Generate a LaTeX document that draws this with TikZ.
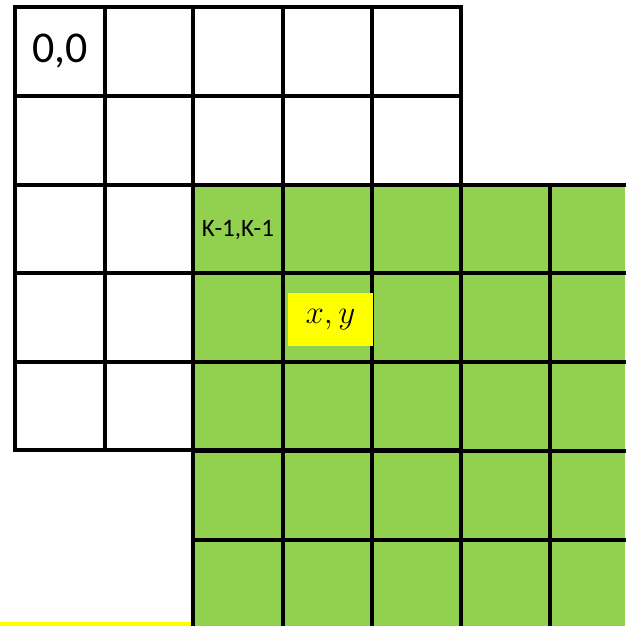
\RequirePackage{fix-cm}
\documentclass[tikz,border=0pt]{standalone}
\usepackage{fontspec}
\setmainfont{Carlito}
\definecolor{cellgreen}{RGB}{146,208,80}
\definecolor{hiyellow}{RGB}{255,255,0}
\tikzset{
    gridline/.style={line width=3.2pt,black,line cap=rect},
    biglabel/.style={font=\fontsize{44}{48}\selectfont,inner sep=0pt},
    smalllabel/.style={font=\fontsize{25}{28}\selectfont,inner sep=0pt},
    pixbox/.style={fill=hiyellow,minimum width=85pt,minimum height=53pt,inner sep=0pt,font=\fontsize{33}{36}\selectfont},
}
\begin{document}
\begin{tikzpicture}[x=1pt,y=-1pt]
\useasboundingbox (0,0) rectangle (625,626);
% green block (right and below)
\fill[cellgreen] (193,185) rectangle (625,626);
\fill[hiyellow] (0,622) rectangle (192,626);
\foreach \x in {193,283,372,461,550}
    \draw[gridline] (\x,185) -- (\x,626);
\foreach \y in {185,273,362,451,540}
    \draw[gridline] (193,\y) -- (625,\y);
% white block (top left)
\draw[gridline] (15,7) rectangle (461,450);
\foreach \x in {105,193,283,372}
    \draw[gridline] (\x,7) -- (\x,450);
\foreach \y in {96,185,273,362}
    \draw[gridline] (15,\y) -- (461,\y);
% labels
\node[biglabel] (origin) at (60,51) {0,0};
\node[smalllabel] (corner) at (238,230) {K-1,K-1};
\node[pixbox] (pixel) at (330.5,319.5) {$x,y$};
\end{tikzpicture}
\end{document}
